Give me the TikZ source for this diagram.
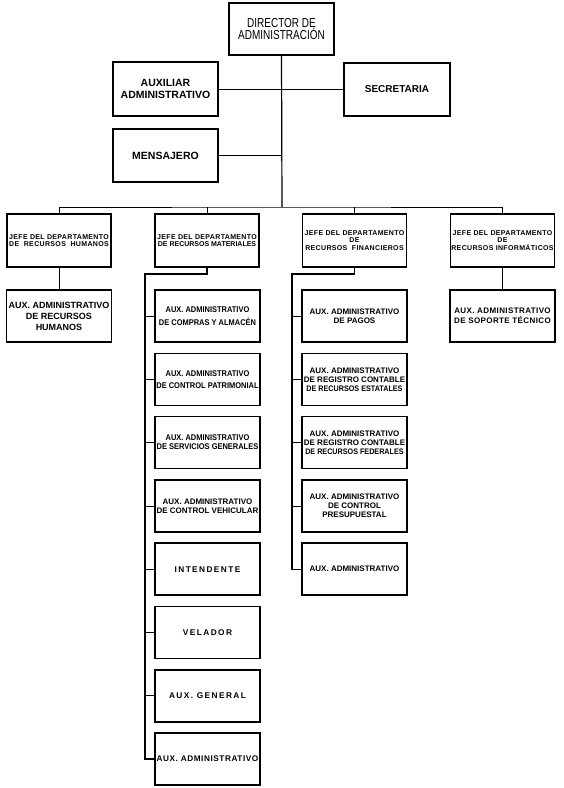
\documentclass[tikz,border=0pt]{standalone}
\usepackage{fontspec}
\setmainfont{Liberation Sans}
\newfontfamily\dirfont[FakeStretch=0.77]{Liberation Sans}
\newfontfamily\condfont[FakeStretch=0.9]{Liberation Sans}
\newfontfamily\spfont[LetterSpace=5]{Liberation Sans}
\newfontfamily\mspfont[LetterSpace=7]{Liberation Sans}
\newfontfamily\wsfont[LetterSpace=17]{Liberation Sans}
\begin{document}
\begin{tikzpicture}[x=1pt,y=-1pt,
  box/.style={draw=black, line width=1.5pt, minimum width=105pt, minimum height=52pt, inner sep=0pt, align=center},
  head/.style={box, minimum width=104pt, minimum height=53pt, font=\spfont\bfseries\fontsize{7}{7.8}\selectfont},
  rfsub/.style={box, font=\bfseries\fontsize{8}{9}\selectfont},
  rmsub/.style={box, font=\condfont\bfseries\fontsize{8.3}{9}\selectfont},
  conn/.style={line width=0.8pt},
  trunk/.style={line width=1.6pt}]
\useasboundingbox (0,0) rectangle (563,788);
\fill[white] (0,0) rectangle (563,788);
% top level
\node[box, font=\dirfont\fontsize{13}{12.7}\selectfont] (dir) at (281.5,29) {DIRECTOR DE\\ADMINISTRACIÓN};
\node[box, minimum height=54pt, font=\bfseries\fontsize{10.5}{12.5}\selectfont] (aux) at (165.5,89) {AUXILIAR\\ADMINISTRATIVO};
\node[box, minimum width=106pt, minimum height=53pt, font=\bfseries\fontsize{10}{12}\selectfont] (sec) at (397,89.5) {SECRETARIA};
\node[box, minimum height=53pt, font=\bfseries\fontsize{10.5}{12}\selectfont] (men) at (165.5,155.5) {MENSAJERO};
% departments
\node[head] (rh) at (59,240.5) {JEFE DEL DEPARTAMENTO\\DE\ \ RECURSOS\ \ HUMANOS};
\node[head] (rm) at (207,240.5) {JEFE DEL DEPARTAMENTO\\{\rmfamily DE RECURSOS MATERIALES}};
\node[head] (rf) at (354.5,240.5) {JEFE DEL DEPARTAMENTO\\DE\\RECURSOS\ \ FINANCIEROS};
\node[head] (ri) at (502.5,240.5) {JEFE DEL DEPARTAMENTO\\DE\\RECURSOS INFORMÁTICOS};
% RH and RI subs
\node[box, font=\bfseries\fontsize{9}{11}\selectfont] (rhs) at (59,316) {AUX. ADMINISTRATIVO\\DE RECURSOS\\HUMANOS};
\node[box, font=\spfont\bfseries\fontsize{8}{10}\selectfont] (ris) at (502.5,316) {AUX. ADMINISTRATIVO\\DE SOPORTE TÉCNICO};
% RM column
\node[rmsub, font=\condfont\bfseries\fontsize{8.3}{13}\selectfont] (m1) at (207.5,316) {AUX. ADMINISTRATIVO\\DE COMPRAS Y ALMACÉN};
\node[rmsub, font=\condfont\bfseries\fontsize{8.3}{12}\selectfont] (m2) at (207.5,379.3) {AUX. ADMINISTRATIVO\\DE CONTROL PATRIMONIAL};
\node[rmsub] (m3) at (207.5,442.6) {AUX. ADMINISTRATIVO\\DE SERVICIOS GENERALES};
\node[rfsub] (m4) at (207.5,505.9) {AUX. ADMINISTRATIVO\\DE CONTROL VEHICULAR};
\node[box, font=\wsfont\bfseries\fontsize{8.3}{9}\selectfont] (m5) at (207.5,569.2) {INTENDENTE};
\node[box, font=\wsfont\bfseries\fontsize{8.3}{9}\selectfont] (m6) at (207.5,632.5) {VELADOR};
\node[box, font=\wsfont\bfseries\fontsize{8.3}{9}\selectfont] (m7) at (207.5,695.8) {AUX. GENERAL};
\node[box, font=\mspfont\bfseries\fontsize{8.2}{9}\selectfont] (m8) at (207.5,759.1) {AUX. ADMINISTRATIVO};
% RF column
\node[rfsub, font=\bfseries\fontsize{8}{9.5}\selectfont] (f1) at (354.5,316) {AUX. ADMINISTRATIVO\\DE PAGOS};
\node[rfsub] (f2) at (354.5,379.3) {AUX. ADMINISTRATIVO\\DE REGISTRO CONTABLE\\{\condfont DE RECURSOS ESTATALES}};
\node[rfsub] (f3) at (354.5,442.6) {AUX. ADMINISTRATIVO\\DE REGISTRO CONTABLE\\{\condfont DE RECURSOS FEDERALES}};
\node[rfsub] (f4) at (354.5,505.9) {AUX. ADMINISTRATIVO\\DE CONTROL\\PRESUPUESTAL};
\node[rfsub] (f5) at (354.5,569.2) {AUX. ADMINISTRATIVO};
% connectors
\coordinate (bus) at (282,207);
\coordinate (rmt) at (145,274);
\coordinate (rft) at (292,274);
\draw[line width=1.2pt] (dir.south) -- (bus);
\draw[conn] (aux.east) -- (aux.east -| sec.west);
\draw[conn] (men.east) -- (men.east -| dir.south);
\draw[conn] (rh.north) |- (bus) -| (ri.north);
\draw[conn] (rm.north) -- (rm.north |- bus);
\draw[conn] (rf.north) -- (rf.north |- bus);
\draw[conn] (rh.south) -- (rhs.north);
\draw[conn] (ri.south) -- (ris.north);
\draw[trunk] (rm.south) |- (rmt) |- (m8.west);
\foreach \n in {m1,m2,m3,m4,m5,m6,m7} \draw[conn] (\n.west -| rmt) -- (\n.west);
\draw[line width=1.2pt] (rf.south) |- (rft) |- (f5.west);
\foreach \n in {f1,f2,f3,f4} \draw[conn] (\n.west -| rft) -- (\n.west);
\end{tikzpicture}
\end{document}
